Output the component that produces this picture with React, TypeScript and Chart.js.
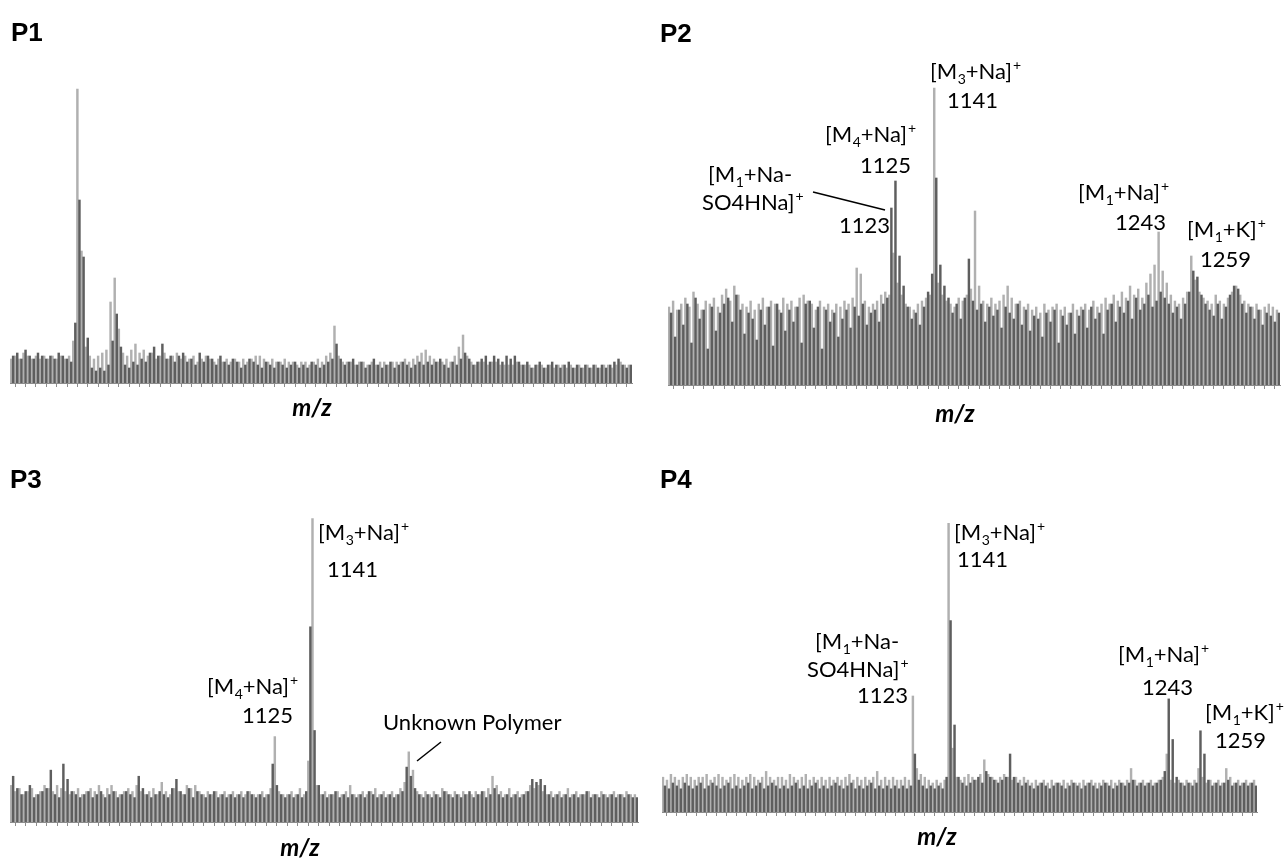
import React, { useEffect, useRef } from "react";
import { Chart, registerables } from "chart.js";

Chart.register(...registerables);

// ---------------- DATA (relative intensity, % of panel maximum) ----------------
// Each spectrum is sampled on 150 m/z bins; two overlaid traces per panel.

const P1_LIGHT = [
  8, 9, 8, 10, 9, 8, 9, 8, 9, 8,
  9, 8, 9, 8, 9, 14, 98, 44, 12, 9,
  8, 9, 10, 11, 27, 35, 18, 10, 9, 11,
  13, 10, 11, 9, 10, 8, 9, 10, 8, 9,
  10, 8, 9, 8, 9, 7, 8, 9, 8, 7,
  8, 7, 8, 7, 8, 7, 8, 7, 8, 9,
  9, 8, 7, 8, 7, 7, 8, 7, 7, 6,
  7, 7, 6, 7, 8, 7, 9, 10, 19, 9,
  7, 7, 7, 6, 7, 7, 6, 7, 6, 7,
  7, 6, 7, 7, 7, 8, 7, 8, 9, 10,
  11, 9, 8, 7, 7, 8, 7, 9, 12, 16,
  9, 7, 6, 7, 7, 6, 7, 7, 6, 6,
  6, 6, 7, 6, 6, 6, 5, 6, 6, 5,
  6, 5, 6, 6, 5, 6, 5, 6, 5, 6,
  5, 6, 5, 6, 6, 5, 6, 7, 6, 6,
];
const P1_DARK = [
  9, 10, 8, 11, 9, 8, 10, 9, 8, 9,
  8, 10, 9, 8, 7, 20, 61, 42, 15, 5,
  4, 5, 4, 6, 14, 23, 12, 6, 5, 7,
  6, 8, 7, 10, 12, 9, 13, 8, 9, 7,
  9, 10, 7, 8, 6, 10, 7, 9, 8, 6,
  9, 7, 6, 8, 7, 5, 6, 8, 7, 6,
  5, 7, 6, 5, 7, 6, 5, 6, 7, 5,
  6, 5, 7, 6, 5, 6, 7, 8, 13, 8,
  6, 7, 8, 6, 7, 5, 6, 8, 6, 5,
  6, 7, 5, 6, 7, 6, 5, 6, 7, 6,
  7, 6, 7, 8, 6, 5, 7, 6, 8, 10,
  8, 6, 7, 8, 9, 7, 9, 8, 7, 9,
  8, 9, 7, 6, 7, 5, 6, 7, 5, 6,
  7, 6, 5, 6, 7, 5, 6, 5, 6, 5,
  6, 5, 6, 5, 6, 7, 8, 6, 5, 6,
];

const P2_LIGHT = [
  26, 28, 25, 27, 29, 26, 31, 27, 25, 28,
  27, 29, 26, 30, 32, 28, 33, 30, 27, 26,
  28, 25, 27, 29, 26, 28, 27, 25, 29, 27,
  28, 26, 29, 30, 28, 27, 25, 28, 26, 27,
  25, 27, 26, 28, 27, 29, 39, 37, 28, 26,
  27, 28, 30, 31, 30, 44, 34, 30, 27, 26,
  25, 27, 28, 29, 30, 99, 34, 30, 28, 27,
  26, 29, 28, 30, 32, 58, 33, 28, 27, 29,
  27, 28, 30, 33, 29, 27, 28, 26, 27, 25,
  26, 24, 27, 25, 26, 27, 25, 26, 24, 27,
  25, 26, 27, 25, 28, 26, 27, 29, 27, 30,
  28, 31, 29, 33, 30, 32, 29, 34, 37, 40,
  51, 38, 34, 30, 28, 27, 29, 31, 43, 35,
  31, 29, 28, 27, 30, 28, 27, 29, 31, 33,
  30, 28, 27, 26, 27, 25, 26, 27, 26, 25,
];
const P2_DARK = [
  24, 16, 25, 20, 27, 14, 29, 22, 25, 12,
  26, 18, 24, 27, 29, 21, 30, 25, 17, 24,
  22, 15, 25, 20, 26, 13, 27, 24, 18, 25,
  21, 26, 14, 27, 28, 19, 26, 12, 25, 21,
  24, 16, 22, 25, 19, 26, 23, 27, 20, 24,
  25, 21, 27, 29, 59, 68, 43, 33, 26, 22,
  24, 20, 26, 31, 37, 69, 40, 33, 29, 24,
  27, 22, 29, 42, 28, 25, 27, 21, 26, 23,
  25, 19, 26, 24, 22, 27, 20, 25, 18, 23,
  22, 16, 24, 21, 25, 14, 23, 20, 24, 17,
  23, 25, 19, 26, 22, 24, 17, 25, 27, 21,
  26, 24, 28, 22, 29, 25, 27, 30, 26, 28,
  31, 29, 27, 24, 26, 22, 27, 31, 38, 36,
  30, 27, 25, 23, 27, 22, 26, 30, 33, 32,
  27, 24, 26, 22, 25, 20, 24, 23, 21, 24,
];

const P3_LIGHT = [
  12, 10, 11, 9, 10, 11, 9, 10, 12, 11,
  10, 12, 11, 10, 9, 10, 11, 9, 10, 11,
  10, 12, 9, 11, 12, 10, 9, 10, 11, 10,
  12, 10, 9, 10, 11, 9, 13, 10, 9, 11,
  10, 9, 12, 11, 12, 10, 9, 10, 9, 10,
  9, 10, 9, 10, 9, 10, 9, 10, 9, 9,
  10, 9, 11, 28, 10, 9, 9, 10, 9, 11,
  9, 20, 99.5, 12, 9, 10, 9, 9, 10, 9,
  10, 12, 9, 9, 10, 9, 10, 11, 9, 10,
  9, 10, 9, 11, 13, 23, 17, 10, 9, 10,
  9, 10, 9, 11, 10, 9, 10, 9, 10, 9,
  9, 10, 9, 10, 11, 15, 12, 10, 9, 11,
  9, 10, 9, 10, 12, 11, 12, 10, 9, 10,
  9, 10, 9, 11, 9, 10, 9, 9, 10, 9,
  9, 10, 9, 9, 10, 9, 9, 10, 9, 9,
];
const P3_DARK = [
  15, 11, 9, 10, 12, 8, 9, 10, 11, 17,
  9, 8, 19, 14, 10, 9, 8, 9, 10, 8,
  9, 10, 8, 9, 10, 8, 9, 10, 9, 8,
  15, 11, 9, 8, 9, 10, 9, 8, 11, 14,
  10, 9, 11, 8, 10, 9, 8, 9, 10, 8,
  9, 8, 9, 8, 9, 8, 10, 9, 8, 9,
  8, 9, 19, 12, 9, 8, 9, 8, 9, 8,
  10, 64, 30, 12, 9, 8, 9, 10, 8, 9,
  8, 9, 8, 9, 8, 10, 9, 8, 9, 8,
  9, 8, 9, 10, 18, 15, 11, 9, 8, 9,
  8, 9, 8, 10, 9, 8, 9, 8, 9, 10,
  8, 9, 10, 8, 9, 11, 9, 8, 9, 8,
  9, 8, 9, 10, 14, 13, 14, 12, 9, 8,
  9, 8, 9, 8, 9, 8, 9, 10, 8, 9,
  8, 9, 8, 9, 8, 9, 8, 9, 8, 8,
];

const P4_LIGHT = [
  12, 11, 13, 12, 11, 12, 13, 12, 11, 12,
  12, 13, 11, 12, 13, 12, 11, 12, 13, 12,
  11, 12, 13, 12, 11, 12, 14, 12, 11, 12,
  12, 11, 13, 12, 11, 12, 13, 11, 12, 11,
  12, 11, 12, 11, 12, 11, 12, 13, 11, 12,
  11, 12, 11, 12, 14, 11, 12, 11, 12, 11,
  11, 12, 11, 40, 15, 13, 12, 11, 10, 11,
  10, 11, 99.5, 22, 12, 11, 12, 13, 12, 11,
  13, 18, 13, 12, 11, 12, 13, 12, 11, 12,
  11, 12, 11, 10, 11, 10, 11, 10, 11, 10,
  10, 11, 10, 11, 10, 10, 11, 10, 11, 10,
  10, 11, 10, 11, 10, 11, 10, 11, 15, 11,
  10, 11, 10, 11, 10, 11, 12, 20, 11, 10,
  11, 10, 11, 10, 11, 15, 12, 10, 11, 10,
  11, 10, 15, 12, 10, 11, 10, 11, 10, 11,
];
const P4_DARK = [
  9, 8, 10, 9, 8, 10, 9, 8, 9, 10,
  8, 9, 10, 9, 8, 9, 10, 8, 9, 8,
  9, 10, 8, 9, 10, 8, 9, 10, 9, 8,
  9, 8, 9, 10, 8, 9, 8, 9, 10, 8,
  9, 8, 9, 10, 9, 8, 9, 10, 8, 9,
  8, 9, 10, 8, 9, 8, 9, 8, 9, 8,
  9, 8, 9, 20, 11, 9, 8, 9, 8, 9,
  8, 12, 66, 30, 12, 10, 9, 10, 11, 12,
  10, 14, 12, 11, 10, 11, 12, 20, 12, 10,
  9, 10, 9, 8, 9, 10, 9, 8, 9, 10,
  9, 8, 9, 10, 9, 8, 9, 10, 9, 8,
  9, 10, 9, 8, 9, 10, 9, 10, 11, 9,
  10, 9, 10, 9, 10, 11, 14, 39, 25, 12,
  10, 9, 10, 9, 10, 28, 20, 11, 9, 10,
  9, 10, 11, 9, 10, 9, 10, 9, 10, 9,
];

const PANEL_TITLES = ["P1", "P2", "P3", "P4"];
const AXIS_TITLE = "m/z";

// Peak annotations ("_x" = subscript, "^x" = superscript)
const P2_LABELS = ["[M_3+Na]^+", "1141", "[M_4+Na]^+", "1125", "[M_1+Na-", "SO4HNa]^+", "1123", "[M_1+Na]^+", "1243", "[M_1+K]^+", "1259"];
const P3_LABELS = ["[M_3+Na]^+", "1141", "[M_4+Na]^+", "1125", "Unknown Polymer"];
const P4_LABELS = ["[M_3+Na]^+", "1141", "[M_1+Na-", "SO4HNa]^+", "1123", "[M_1+Na]^+", "1243", "[M_1+K]^+", "1259"];

// ---------------- STYLE / LAYOUT ----------------
const LIGHT_COLOR = "#b0b0b0";
const DARK_COLOR = "#5e5e5e";
const TEXT_COLOR = "#000000";
const LABEL_FONT = "Lato, 'Open Sans', sans-serif";
const LABEL_SIZE = 22;
const SMALL_SIZE = 14;
const N_BINS = 150;
const BAR_W = 1.8;

type Box = { left: number; top: number; w: number; h: number };
type Pad = { left: number; right: number; top: number; bottom: number };

interface PanelDef {
  title: string;
  titleX: number;
  titleBaseline: number;
  canvas: Box;
  pad: Pad;
  light: number[];
  dark: number[];
  labels: string[];
  labelPos: [number, number][]; // page coords: left x, baseline y
  leaders: [number, number, number, number][];
  mz: [number, number];
}

const PANELS: PanelDef[] = [
  {
    title: PANEL_TITLES[0], titleX: 11, titleBaseline: 41,
    canvas: { left: 0, top: 0, w: 644, h: 430 },
    pad: { left: 10, right: 12, top: 83, bottom: 43 },
    light: P1_LIGHT, dark: P1_DARK,
    labels: [], labelPos: [], leaders: [],
    mz: [312, 408],
  },
  {
    title: PANEL_TITLES[1], titleX: 660, titleBaseline: 42,
    canvas: { left: 644, top: 0, w: 644, h: 430 },
    pad: { left: 24, right: 8, top: 85, bottom: 41 },
    light: P2_LIGHT, dark: P2_DARK,
    labels: P2_LABELS,
    labelPos: [[930, 79], [947, 108], [825, 142], [860, 173], [708, 182], [702, 210], [839, 233], [1078, 200], [1115, 230], [1187, 237], [1200, 267]],
    leaders: [[813, 192, 885, 210]],
    mz: [955, 414],
  },
  {
    title: PANEL_TITLES[2], titleX: 10, titleBaseline: 488,
    canvas: { left: 0, top: 430, w: 644, h: 429 },
    pad: { left: 10, right: 6, top: 87, bottom: 33 },
    light: P3_LIGHT, dark: P3_DARK,
    labels: P3_LABELS,
    labelPos: [[318, 540], [327, 577], [207, 694], [242, 723], [383, 730]],
    leaders: [[441, 742, 417, 761]],
    mz: [300, 848],
  },
  {
    title: PANEL_TITLES[3], titleX: 660, titleBaseline: 488,
    canvas: { left: 644, top: 430, w: 644, h: 429 },
    pad: { left: 18, right: 31, top: 92, bottom: 43 },
    light: P4_LIGHT, dark: P4_DARK,
    labels: P4_LABELS,
    labelPos: [[954, 540], [957, 567], [815, 649], [807, 677], [857, 703], [1118, 662], [1142, 695], [1205, 720], [1215, 748]],
    leaders: [],
    mz: [937, 837],
  },
];

function drawRich(ctx: CanvasRenderingContext2D, text: string, x: number, y: number) {
  let cx = x;
  let run = "";
  const flush = () => {
    if (!run) return;
    ctx.font = `${LABEL_SIZE}px ${LABEL_FONT}`;
    ctx.fillText(run, cx, y);
    cx += ctx.measureText(run).width;
    run = "";
  };
  for (let i = 0; i < text.length; i++) {
    const ch = text[i];
    if ((ch === "_" || ch === "^") && i + 1 < text.length) {
      flush();
      const c = text[++i];
      ctx.font = `${SMALL_SIZE}px ${LABEL_FONT}`;
      ctx.fillText(c, cx + (ch === "_" ? 0.5 : 1), y + (ch === "_" ? 5 : -9));
      cx += ctx.measureText(c).width + (ch === "_" ? 0.5 : 1);
    } else {
      run += ch;
    }
  }
  flush();
}

function makeOverlay(p: PanelDef) {
  return {
    id: "overlay",
    afterDraw(chart: any) {
      const ctx: CanvasRenderingContext2D = chart.ctx;
      const ox = p.canvas.left;
      const oy = p.canvas.top;
      ctx.save();
      ctx.fillStyle = TEXT_COLOR;
      ctx.textAlign = "left";
      ctx.textBaseline = "alphabetic";
      p.labels.forEach((t, i) => {
        const [lx, ly] = p.labelPos[i];
        drawRich(ctx, t, lx - ox, ly - oy);
      });
      ctx.strokeStyle = TEXT_COLOR;
      ctx.lineWidth = 1.5;
      p.leaders.forEach(([x1, y1, x2, y2]) => {
        ctx.beginPath();
        ctx.moveTo(x1 - ox, y1 - oy);
        ctx.lineTo(x2 - ox, y2 - oy);
        ctx.stroke();
      });
      ctx.font = `italic bold 24px ${LABEL_FONT}`;
      ctx.textAlign = "center";
      ctx.textBaseline = "middle";
      ctx.fillText(AXIS_TITLE, p.mz[0] - ox, p.mz[1] - oy);
      ctx.restore();
    },
  };
}

function Panel({ p }: { p: PanelDef }) {
  const ref = useRef<HTMLCanvasElement | null>(null);
  useEffect(() => {
    if (!ref.current) return;
    const chart = new Chart(ref.current, {
      type: "bar",
      data: {
        datasets: [
          {
            label: "trace A",
            data: p.light.map((v, i) => ({ x: i + 0.25, y: v })),
            backgroundColor: LIGHT_COLOR,
            barThickness: BAR_W,
            grouped: false,
            order: 2,
          } as any,
          {
            label: "trace B",
            data: p.dark.map((v, i) => ({ x: i + 0.75, y: v })),
            backgroundColor: DARK_COLOR,
            barThickness: BAR_W,
            grouped: false,
            order: 1,
          } as any,
        ],
      },
      options: {
        animation: false,
        responsive: false,
        events: [],
        layout: { padding: p.pad },
        plugins: {
          legend: { display: false },
          tooltip: { enabled: false },
          title: { display: false },
        },
        scales: {
          x: {
            type: "linear",
            min: 0,
            max: N_BINS,
            offset: false,
            grid: { display: true, drawOnChartArea: false, drawTicks: true, tickLength: 4, color: "#8c8c8c", lineWidth: 1 },
            border: { display: true, color: "#8c8c8c", width: 1 },
            ticks: { display: false, count: 61 },
            title: { display: false },
          },
          y: { display: false, min: 0, max: 100 },
        },
      } as any,
      plugins: [makeOverlay(p)],
    });
    return () => chart.destroy();
  }, [p]);
  return (
    <>
      <canvas
        ref={ref}
        width={p.canvas.w}
        height={p.canvas.h}
        style={{ position: "absolute", left: p.canvas.left, top: p.canvas.top, width: p.canvas.w, height: p.canvas.h }}
      />
      <div
        style={{
          position: "absolute",
          left: p.titleX,
          top: p.titleBaseline - 22,
          fontFamily: "'Liberation Sans', Arial, Helvetica, sans-serif",
          fontWeight: "bold",
          fontSize: 26,
          lineHeight: "26px",
          color: "#000",
        }}
      >
        {p.title}
      </div>
    </>
  );
}

export default function App() {
  return (
    <div style={{ position: "absolute", left: 0, top: 0, width: 1288, height: 859, background: "#fff", overflow: "hidden" }}>
      {PANELS.map((p) => (
        <Panel key={p.title} p={p} />
      ))}
    </div>
  );
}
